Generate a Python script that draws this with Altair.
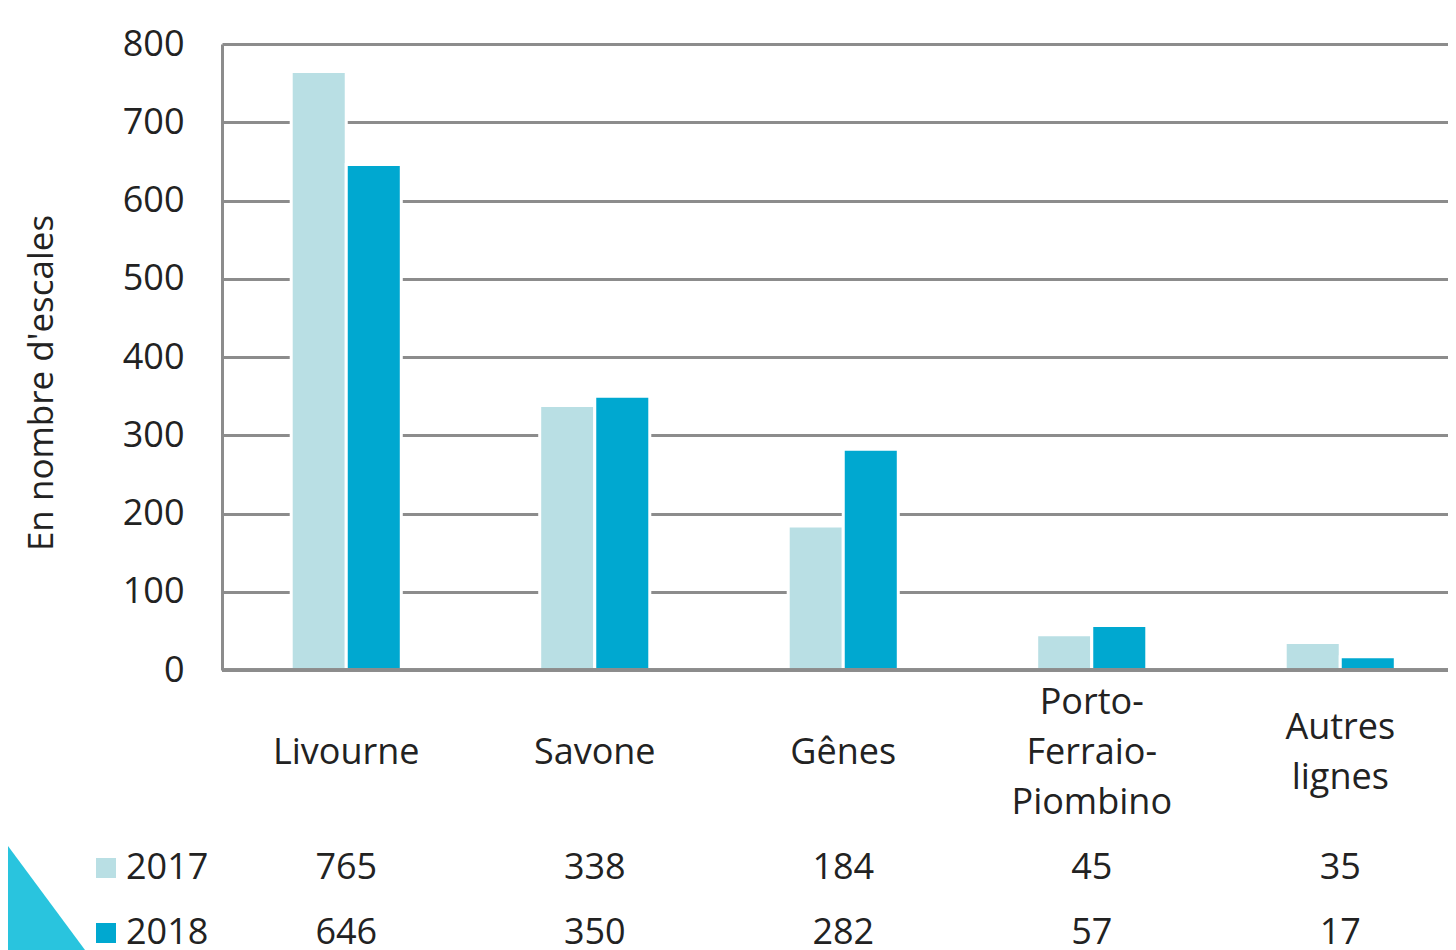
import altair as alt
import pandas as pd

# ---- data ----
categories = ["Livourne", "Savone", "Gênes", "Porto-\nFerraio-\nPiombino", "Autres\nlignes"]
years = ["2017", "2018"]
values_2017 = [765, 338, 184, 45, 35]
values_2018 = [646, 350, 282, 57, 17]
y_ticks = [0, 100, 200, 300, 400, 500, 600, 700, 800]
y_title = "En nombre d'escales"

# ---- styling ----
colors = ["#b9dfe4", "#00a8d0"]
text_color = "#222222"
grid_color = "#8c8c8c"
FONT = "Open Sans"
FS = 36

rows = []
for c, a, b in zip(categories, values_2017, values_2018):
    rows.append({"cat": c, "year": years[0], "value": a})
    rows.append({"cat": c, "year": years[1], "value": b})
df = pd.DataFrame(rows)
cat_df = pd.DataFrame({"cat": categories})
year_df = pd.DataFrame({"year": years, "color": colors})

PLOT_W = 1226
PLOT_H = 626
x_scale = alt.Scale(domain=categories, range=[0, 1242.5], paddingInner=0.557, paddingOuter=0.2785)
x_enc = alt.X("cat:N", sort=categories, scale=x_scale, axis=None)

bars = alt.Chart(df).mark_bar(stroke="white", strokeWidth=3).encode(
    x=x_enc,
    xOffset=alt.XOffset("year:N", sort=years, scale=alt.Scale(paddingInner=0, paddingOuter=0)),
    y=alt.Y(
        "value:Q",
        scale=alt.Scale(domain=[0, 800], nice=False),
        axis=alt.Axis(
            values=y_ticks,
            title=None,
            grid=True,
            gridColor=grid_color,
            gridWidth=3,
            domain=True,
            domainColor=grid_color,
            domainWidth=3,
            ticks=False,
            labelFont=FONT,
            labelFontSize=FS,
            labelColor=text_color,
            labelPadding=38,
        ),
    ),
    color=alt.Color("year:N", scale=alt.Scale(domain=years, range=colors), legend=None),
)

baseline = alt.Chart(cat_df).mark_rule(color=grid_color, strokeWidth=3).encode(
    y=alt.datum(0), x=alt.value(0), x2=alt.value(PLOT_W)
)

layers = [bars, baseline]

# category labels, vertically centred on the same line whatever their number of lines
LINE_H = 50
for k in (1, 2, 3):
    layers.append(
        alt.Chart(cat_df)
        .transform_calculate(n="length(split(datum.cat, '\\n'))")
        .transform_filter(alt.datum.n == k)
        .mark_text(
            font=FONT, fontSize=FS, color=text_color, baseline="middle", align="center",
            lineBreak="\n", lineHeight=LINE_H,
        )
        .encode(x=x_enc, y=alt.value(709 - (k - 1) * LINE_H / 2), text="cat:N")
    )

row_y = [824, 889]
for yr, ry, col in zip(years, row_y, colors):
    layers.append(
        alt.Chart(df).transform_filter(alt.datum.year == yr).mark_text(
            font=FONT, fontSize=FS, color=text_color, baseline="middle", align="center"
        ).encode(x=x_enc, y=alt.value(ry), text="value:Q")
    )
    layers.append(
        alt.Chart(year_df).transform_filter(alt.datum.year == yr).mark_square(
            size=400, color=col, opacity=1, filled=True
        ).encode(x=alt.value(-116), y=alt.value(ry))
    )
    layers.append(
        alt.Chart(year_df).transform_filter(alt.datum.year == yr).mark_text(
            font=FONT, fontSize=FS, color=text_color, baseline="middle", align="left"
        ).encode(x=alt.value(-96), y=alt.value(ry), text="year:N")
    )

title_layer = alt.Chart(cat_df.head(1)).mark_text(
    font=FONT, fontSize=35, color=text_color, angle=270, baseline="middle", align="center"
).encode(x=alt.value(-180), y=alt.value(339), text=alt.value(y_title))

deco = alt.Chart(cat_df.head(1)).mark_point(
    shape="M-0.74,-1 L0.74,1 L-0.74,1 Z", size=160000, filled=True, color="#29c4de", opacity=1
).encode(x=alt.value(-248), y=alt.value(756))

chart = alt.layer(deco, *layers, title_layer).properties(
    width=PLOT_W,
    height=PLOT_H,
    autosize=alt.AutoSizeParams(type="none"),
    padding={"left": 214, "top": 36, "right": 0, "bottom": 280},
    background="white",
).configure_view(stroke=None)

chart.save("out.html", embed_options={"renderer": "svg", "actions": False})
